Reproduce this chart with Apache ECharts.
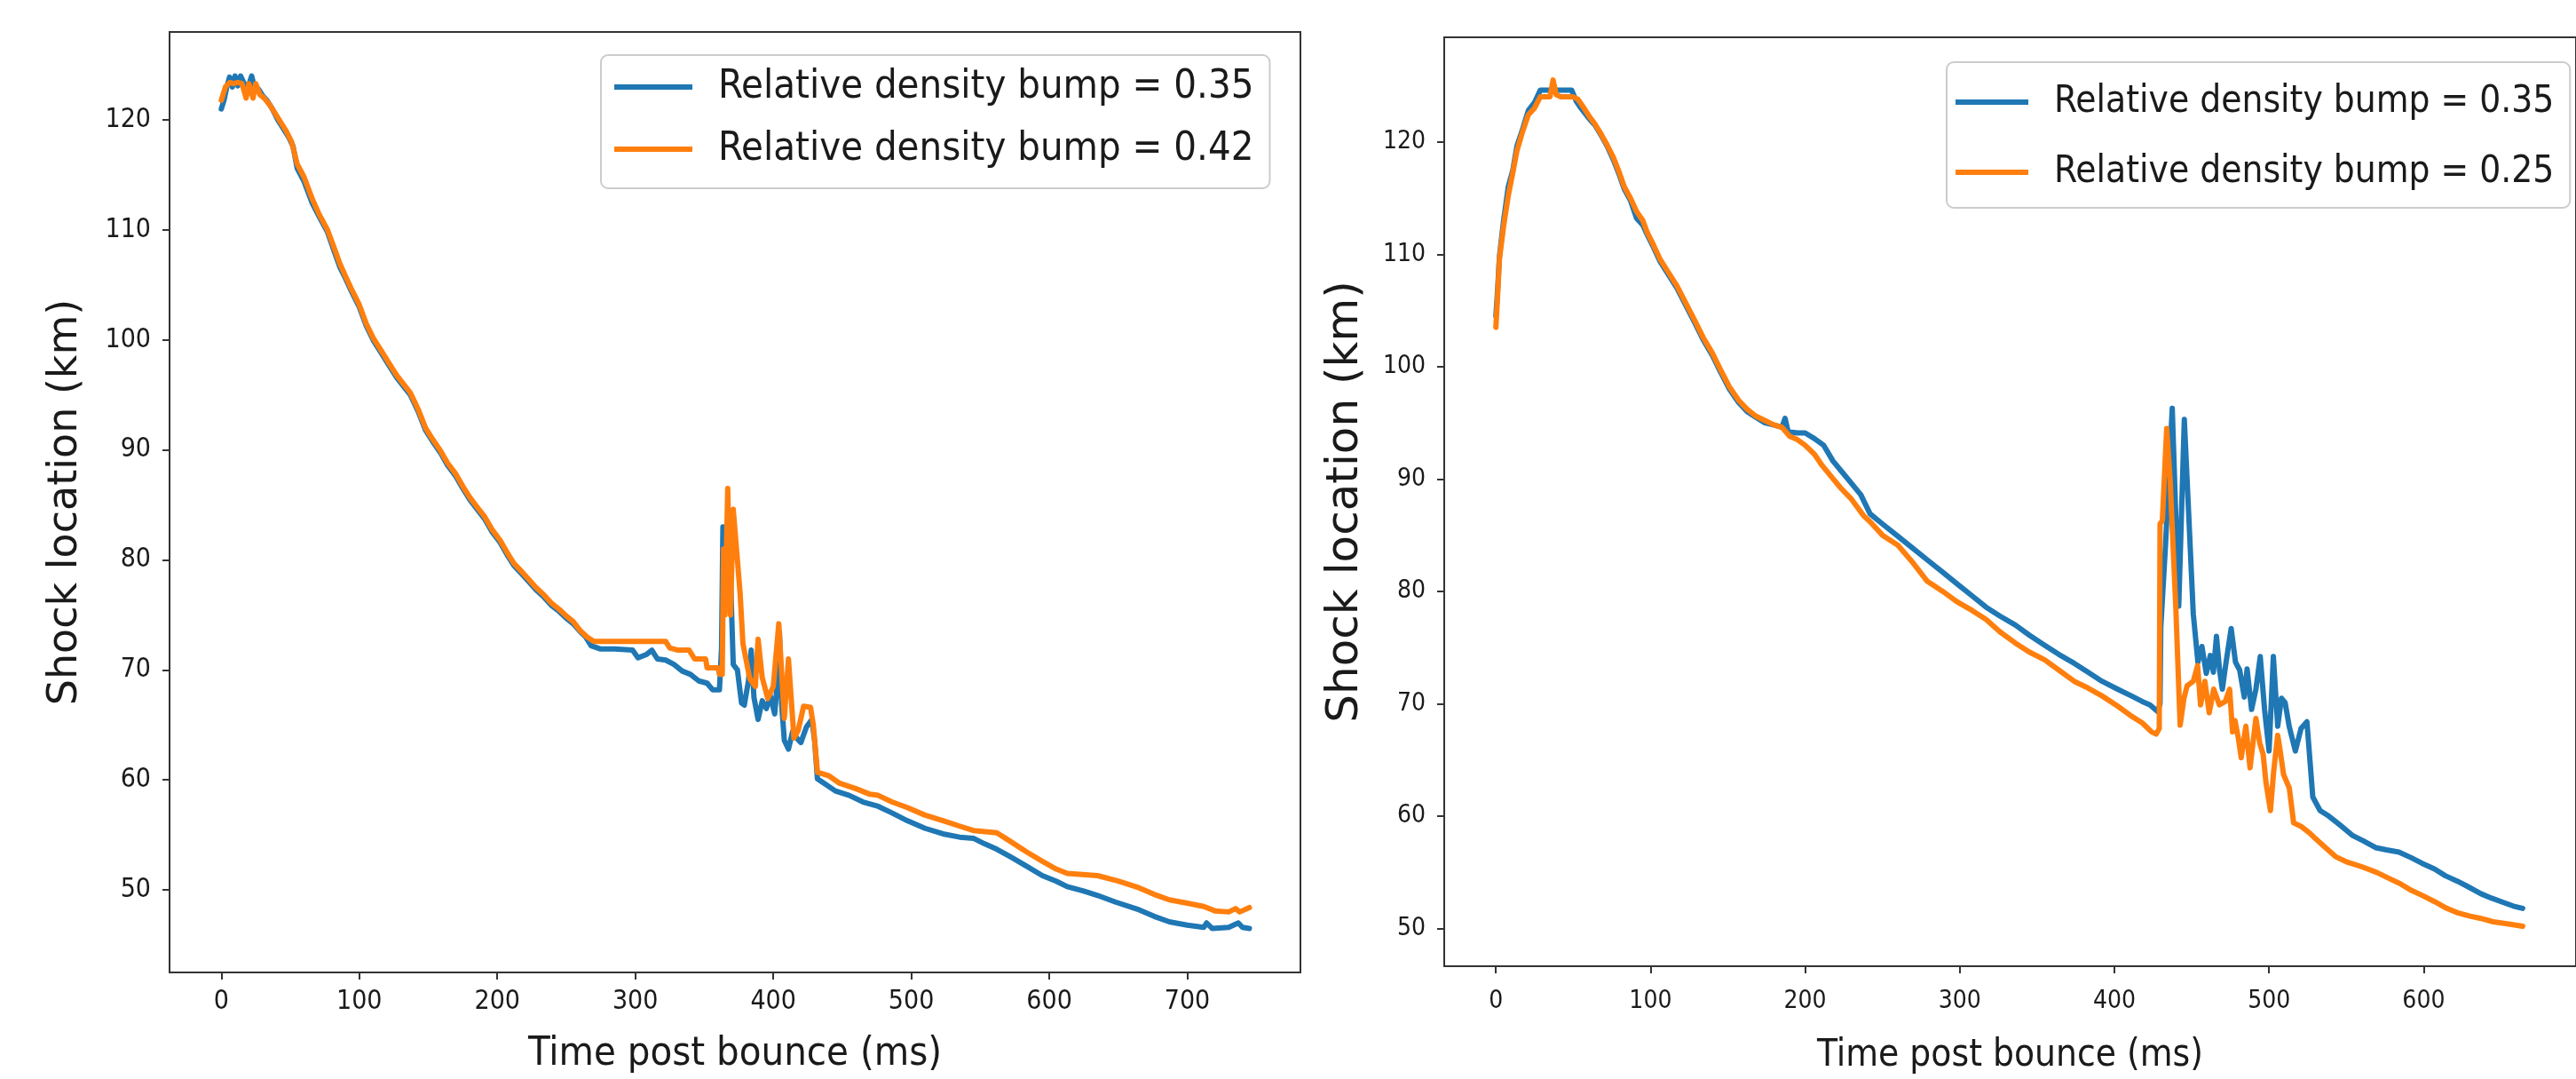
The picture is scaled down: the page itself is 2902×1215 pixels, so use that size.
<!DOCTYPE html>
<html><head><meta charset="utf-8">
<script src="https://cdn.jsdelivr.net/npm/echarts@6/dist/echarts.min.js"></script>
<style>html,body{margin:0;padding:0;background:#fff;overflow:hidden}#c{width:2902px;height:1215px}</style>
</head><body><div id="c"></div>
<script>
// ---------- DATA (time post bounce in ms, shock location in km) ----------
const nameA = 'Relative density bump = 0.35';
const nameB = 'Relative density bump = 0.42';
const nameC = 'Relative density bump = 0.25';

const leftXTicks = [0, 100, 200, 300, 400, 500, 600, 700];
const leftYTicks = [50, 60, 70, 80, 90, 100, 110, 120];
const rightXTicks = [0, 100, 200, 300, 400, 500, 600];
const rightYTicks = [50, 60, 70, 80, 90, 100, 110, 120];

// left panel, bump 0.35
const leftBlue = [
[0,121.0],[2,121.8],[4,123.0],[6,123.9],[8,123.0],[10,124.0],[12,123.1],[14,124.0],[17,123.2],[20,123.2],[22,124.0],[24,123.0],[27,122.8],[30,122.2],[33,121.8],[37,121.0],[41,120.0],[45,119.2],[49,118.4],[52,117.6],[55,115.6],[60,114.4],[66,112.4],[71,111.2],[77,109.8],[82,108.0],[86,106.6],[90,105.6],[94,104.5],[100,103.0],[105,101.3],[110,100.0],[116,98.8],[121,97.8],[127,96.6],[132,95.8],[137,95.0],[143,93.4],[148,91.8],[153,90.8],[159,89.7],[164,88.6],[170,87.6],[175,86.5],[180,85.5],[186,84.5],[191,83.7],[196,82.6],[202,81.6],[207,80.5],[212,79.5],[218,78.7],[223,78.0],[228,77.3],[234,76.6],[239,75.9],[245,75.3],[250,74.7],[255,74.2],[260,73.5],[264,73.0],[268,72.2],[275,71.9],[285,71.9],[298,71.8],[302,71.1],[308,71.4],[312,71.8],[316,71.0],[322,70.9],[328,70.5],[334,69.9],[340,69.6],[346,69.0],[352,68.8],[356,68.2],[361,68.2],[362.5,72.0],[363.5,83.0],[365,78.0],[367,79.6],[369,78.4],[371,70.5],[374,70.0],[377,67.0],[379,66.8],[382,69.0],[384,71.8],[386,67.5],[389,65.5],[392,67.2],[395,66.5],[398,67.6],[401,66.0],[403,69.0],[404.5,73.4],[406,67.0],[408,63.6],[411,62.8],[414,64.4],[417,63.8],[420,63.4],[424,64.8],[428,65.5],[430,63.5],[432,60.1],[438,59.6],[445,59.0],[455,58.6],[465,58.0],[476,57.6],[486,57.0],[497,56.3],[510,55.6],[523,55.1],[535,54.8],[545,54.7],[553,54.2],[562,53.7],[572,53.0],[583,52.2],[595,51.3],[605,50.8],[613,50.3],[625,49.9],[635,49.5],[648,48.9],[665,48.2],[676,47.6],[687,47.1],[700,46.8],[712,46.6],[714,47.0],[718,46.5],[730,46.6],[737,47.0],[740,46.6],[745,46.5]
];
// left panel, bump 0.42
const leftOrange = [
[0,121.8],[3,123.0],[6,123.4],[9,123.3],[12,123.4],[15,123.3],[18,122.0],[20,123.3],[23,122.0],[25,123.3],[28,122.3],[31,122.0],[35,121.4],[39,120.6],[43,119.8],[47,119.0],[51,118.0],[55,116.0],[60,114.8],[66,112.8],[71,111.4],[77,110.0],[82,108.3],[86,106.9],[90,105.8],[94,104.7],[100,103.2],[105,101.5],[110,100.2],[116,99.0],[121,98.0],[127,96.8],[132,96.0],[137,95.2],[143,93.6],[148,92.0],[153,91.0],[159,89.9],[164,88.8],[170,87.8],[175,86.7],[180,85.7],[186,84.7],[191,83.9],[196,82.8],[202,81.8],[207,80.7],[212,79.7],[218,78.9],[223,78.2],[228,77.5],[234,76.8],[239,76.1],[245,75.5],[250,74.9],[255,74.4],[260,73.6],[265,73.0],[270,72.6],[290,72.6],[310,72.6],[322,72.6],[325,72.0],[331,71.8],[339,71.8],[343,71.0],[351,71.0],[352,70.2],[360,70.2],[361,69.6],[363,69.6],[364,81.0],[365,75.0],[367,86.5],[369,75.0],[371,84.6],[374,80.0],[376,76.9],[378,72.4],[383,69.2],[387,68.5],[389,72.8],[392,69.3],[396,67.4],[400,68.5],[404,74.2],[408,65.6],[411,71.0],[415,63.8],[418,64.5],[422,66.7],[427,66.6],[429,65.0],[432,60.7],[440,60.4],[448,59.7],[460,59.2],[470,58.7],[476,58.6],[486,58.0],[497,57.5],[510,56.8],[523,56.3],[535,55.8],[545,55.4],[562,55.2],[572,54.4],[583,53.5],[595,52.6],[605,51.9],[613,51.5],[635,51.3],[650,50.8],[665,50.2],[676,49.6],[687,49.1],[700,48.8],[712,48.5],[720,48.1],[730,48.0],[735,48.3],[738,48.0],[745,48.4]
];
// right panel, bump 0.35
const rightBlue = [
[0,104.5],[1,106.5],[2.3,109.8],[5,113.0],[8,116.0],[11,117.5],[13.6,119.6],[17,121.0],[21,122.8],[25,123.5],[28.7,124.6],[33,124.6],[37,124.6],[42,124.6],[46,124.6],[49,124.6],[52,123.6],[55,123.0],[60.7,122.0],[64,121.5],[68,120.6],[72,119.6],[76,118.4],[80,117.0],[83,115.8],[87,114.8],[91,113.2],[95,112.6],[98,111.7],[102,110.6],[106,109.4],[111,108.3],[117,107.0],[123,105.4],[128.6,103.9],[134,102.4],[140,101.0],[145,99.6],[151,98.0],[157,96.8],[162.5,96.0],[168,95.5],[174,95.0],[180,94.8],[185,94.6],[187,95.4],[189,94.2],[195,94.1],[200,94.1],[206,93.6],[212,93.0],[218,91.6],[224,90.6],[230,89.6],[236,88.6],[242,86.9],[250,86.0],[260,84.9],[270,83.8],[279,82.8],[289,81.7],[298,80.7],[308,79.6],[317,78.6],[326,77.8],[336,77.0],[345,76.1],[355,75.2],[364,74.4],[374,73.6],[383,72.8],[392,72.0],[402,71.3],[411,70.7],[418,70.2],[423,69.9],[428,69.3],[429.5,70.0],[430,76.8],[433,84.0],[437.4,96.3],[441.6,78.7],[445.2,95.3],[448,87.0],[451,78.0],[454,73.7],[456.6,75.1],[459.4,72.7],[462,74.3],[464,72.8],[466,76.0],[468,73.0],[469.8,71.3],[472,73.5],[475.5,76.7],[478.3,73.7],[481,73.0],[484,70.6],[485.8,73.1],[488.7,69.5],[491.5,71.3],[494.3,74.2],[497.1,69.5],[500,65.8],[502.8,74.2],[505.6,68.0],[508,70.5],[510.4,70.1],[513,68.0],[517,65.8],[520.7,67.8],[524.5,68.4],[528.3,61.7],[533,60.5],[538.7,60.0],[546,59.2],[553.8,58.3],[561,57.8],[568.9,57.2],[576,57.0],[584,56.8],[592,56.3],[599,55.8],[607,55.3],[614,54.7],[622,54.2],[629,53.7],[637,53.1],[644,52.7],[652,52.3],[658,52.0],[664,51.8]
];
// right panel, bump 0.25
const rightOrange = [
[0,103.5],[1,106.0],[2.3,109.6],[5,112.5],[8,115.2],[11,117.3],[13.6,119.2],[17,120.8],[21,122.4],[25,123.0],[28.7,124.0],[32,124.0],[35,124.0],[37,125.5],[39,124.2],[42,124.0],[46,124.0],[50,124.0],[53,123.8],[56,123.2],[60.7,122.2],[64,121.6],[68,120.7],[72,119.7],[76,118.6],[80,117.2],[83,116.0],[87,115.0],[91,113.8],[95,113.0],[98,111.9],[102,110.8],[106,109.6],[111,108.5],[117,107.2],[123,105.6],[128.6,104.1],[134,102.6],[140,101.2],[145,99.8],[151,98.2],[157,97.0],[162.5,96.2],[168,95.6],[174,95.2],[180,94.8],[185,94.6],[190,93.8],[195,93.5],[200,93.0],[206,92.2],[211,91.2],[217,90.2],[223,89.2],[230,88.2],[238,86.7],[242,86.2],[250,85.0],[260,84.1],[270,82.5],[279,80.9],[289,80.0],[298,79.1],[308,78.3],[317,77.5],[326,76.4],[336,75.4],[345,74.6],[355,73.9],[364,73.0],[374,72.0],[383,71.4],[392,70.7],[402,69.8],[411,68.9],[418,68.3],[424,67.5],[427,67.3],[429,67.8],[429.5,86.0],[431,86.3],[433.8,94.5],[436,90.0],[439.7,78.6],[442.5,68.1],[445,70.5],[447,71.6],[451,72.0],[453.8,73.4],[455.7,69.9],[458.5,72.0],[461.3,69.2],[464.2,71.3],[467.9,69.9],[471.7,70.2],[474.5,71.3],[476.4,67.5],[478,68.5],[480.2,66.9],[482,65.2],[485,68.0],[487.7,64.3],[491.5,68.7],[494,66.5],[496.2,65.5],[498,63.0],[500.9,60.5],[503,64.0],[505.6,67.2],[507,66.0],[509.4,63.7],[513.1,62.5],[515.9,59.4],[520.6,59.1],[526.3,58.5],[530,58.0],[535.7,57.3],[543,56.4],[550.8,55.9],[560,55.5],[569.6,55.0],[577,54.5],[584.7,54.0],[592,53.4],[599.8,52.9],[607,52.4],[614.9,51.8],[622,51.4],[630,51.1],[637,50.9],[645,50.6],[655,50.4],[664,50.2]
];

// ---------- CHART ----------
const BLUE = '#1f77b4', ORANGE = '#ff7f0e';
const COND = "'DejaVu Sans Condensed','Liberation Sans Narrow','DejaVu Sans',sans-serif";
const NORM = "'DejaVu Sans',sans-serif";
const TXT = '#1a1a1a';

function xAxisCfg(idx, min, max, ticks, fs, nameFs, nameGap, lblMargin) {
  return {
    type: 'value', gridIndex: idx, min: min, max: max,
    name: 'Time post bounce (ms)', nameLocation: 'middle', nameGap: nameGap, nameMoveOverlap: false,
    nameTextStyle: { fontFamily: COND, fontSize: nameFs, color: TXT },
    axisLine: { show: false, onZero: false },
    axisTick: { show: true, customValues: ticks, length: 8, lineStyle: { color: '#333', width: 2 } },
    axisLabel: { customValues: ticks, fontFamily: COND, fontSize: fs, color: TXT, margin: lblMargin },
    splitLine: { show: false }
  };
}
function yAxisCfg(idx, min, max, ticks, fs, nameFs, nameGap) {
  return {
    type: 'value', gridIndex: idx, min: min, max: max,
    name: 'Shock location (km)', nameLocation: 'middle', nameRotate: 90, nameGap: nameGap, nameMoveOverlap: false,
    nameTextStyle: { fontFamily: NORM, fontSize: nameFs, color: TXT },
    axisLine: { show: false, onZero: false },
    axisTick: { show: true, customValues: ticks, length: 8, lineStyle: { color: '#333', width: 2 } },
    axisLabel: { customValues: ticks, fontFamily: COND, fontSize: fs, color: TXT, margin: 21 },
    splitLine: { show: false }
  };
}
function lineSeries(name, data, color, xi, yi) {
  return {
    type: 'line', name: name, data: data, xAxisIndex: xi, yAxisIndex: yi,
    showSymbol: false, symbol: 'none', smooth: false,
    lineStyle: { color: color, width: 6, join: 'round', cap: 'round' },
    itemStyle: { color: color }, z: name === nameA ? 2 : 3
  };
}
function legendCfg(left, top, names, fs, lh, gap, pad, iw) {
  return {
    show: true, orient: 'vertical', left: left, top: top, data: names,
    icon: 'rect', itemWidth: iw, itemHeight: 6, itemGap: gap,
    padding: pad, backgroundColor: '#ffffff', borderColor: '#cccccc', borderWidth: 2, borderRadius: 8,
    selectedMode: false,
    textStyle: { fontFamily: COND, fontSize: fs, lineHeight: lh, color: TXT, padding: [0, 0, 0, 24] }
  };
}

const chart = echarts.init(document.getElementById('c'), null, { renderer: 'canvas' });
chart.setOption({
  animation: false,
  backgroundColor: '#ffffff',
  grid: [
    { left: 191, top: 36, right: 1437, bottom: 107, show: true, borderColor: '#333', borderWidth: 2, backgroundColor: 'transparent' },
    { left: 1627, top: 42, right: -18, bottom: 123, show: true, borderColor: '#333', borderWidth: 2, backgroundColor: 'transparent' }
  ],
  xAxis: [
    xAxisCfg(0, -37.5, 782, leftXTicks, 30, 45, 70, 18),
    xAxisCfg(1, -33.4, 698.5, rightXTicks, 28, 42, 80, 26)
  ],
  yAxis: [
    yAxisCfg(0, 42.5, 128.0, leftYTicks, 30, 46, 94),
    yAxisCfg(1, 46.65, 129.3, rightYTicks, 28, 50, 86)
  ],
  legend: [
    legendCfg(677, 62, [nameA, nameB], 45, 50, 20, [11, 18, 19, 15], 88),
    legendCfg(2193, 70, [nameA, nameC], 42, 48, 31, [21, 18, 16, 10], 82)
  ],
  series: [
    lineSeries(nameA, leftBlue, BLUE, 0, 0),
    lineSeries(nameB, leftOrange, ORANGE, 0, 0),
    lineSeries(nameA, rightBlue, BLUE, 1, 1),
    lineSeries(nameC, rightOrange, ORANGE, 1, 1)
  ]
});
</script></body></html>
